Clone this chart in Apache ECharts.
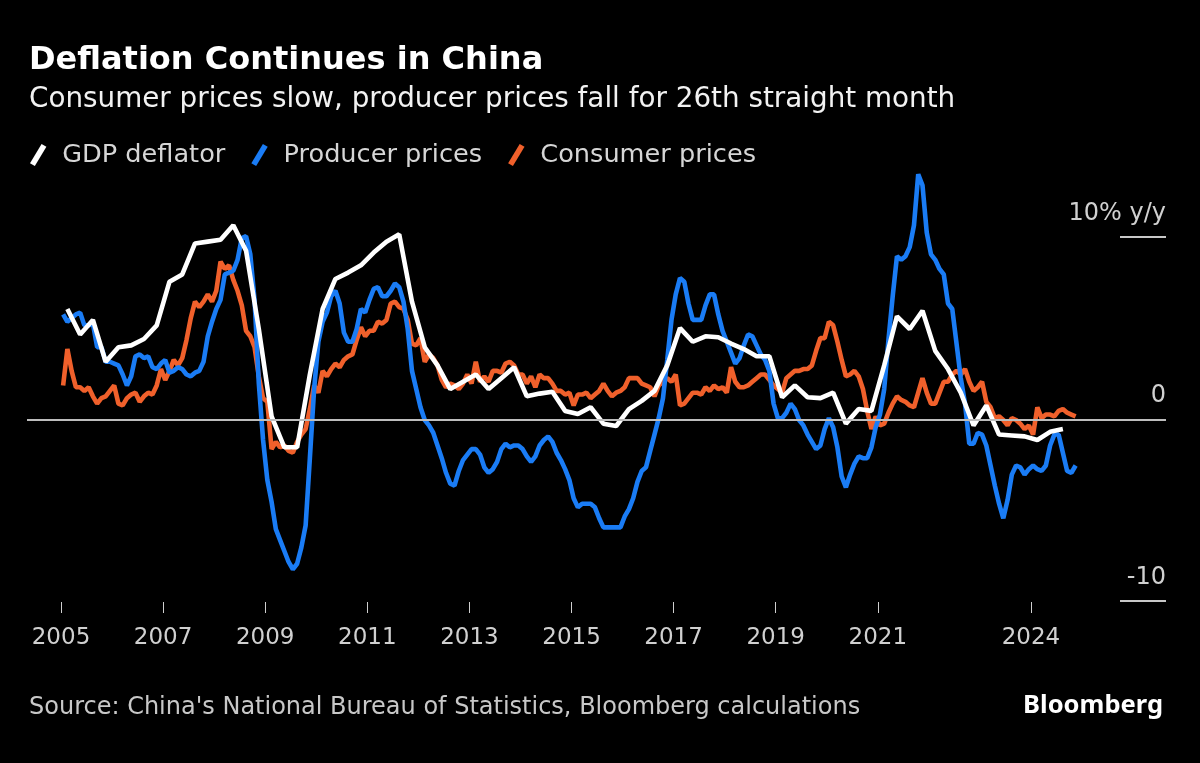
<!DOCTYPE html>
<html>
<head>
<meta charset="utf-8">
<script src="https://cdn.jsdelivr.net/npm/echarts@6/dist/echarts.min.js"></script>
<style>
html,body{margin:0;padding:0;background:#000;}
#chart{width:1200px;height:763px;}
</style>
</head>
<body>
<div id="chart"></div>
<script>
// Consumer prices y/y %, monthly Jan 2005 - Nov 2024
const cpi = [
  1.9,3.9,2.7,1.8,1.8,1.6,1.8,1.3,0.9,1.2,1.3,1.6,
  1.9,0.9,0.8,1.2,1.4,1.5,1.0,1.3,1.5,1.4,1.9,2.8,
  2.2,2.7,3.3,3.0,3.4,4.4,5.6,6.5,6.2,6.5,6.9,6.5,
  7.1,8.7,8.3,8.5,7.7,7.1,6.3,4.9,4.6,4.0,2.4,1.2,
  1.0,-1.6,-1.2,-1.5,-1.4,-1.7,-1.8,-1.2,-0.8,-0.5,0.6,1.9,
  1.5,2.7,2.4,2.8,3.1,2.9,3.3,3.5,3.6,4.4,5.1,4.6,
  4.9,4.9,5.4,5.3,5.5,6.4,6.5,6.2,6.1,5.5,4.2,4.1,
  4.5,3.2,3.6,3.4,3.0,2.2,1.8,2.0,1.9,1.7,2.0,2.5,
  2.0,3.2,2.1,2.4,2.1,2.7,2.7,2.6,3.1,3.2,3.0,2.5,
  2.5,2.0,2.4,1.8,2.5,2.3,2.3,2.0,1.6,1.6,1.4,1.5,
  0.8,1.4,1.4,1.5,1.2,1.4,1.6,2.0,1.6,1.3,1.5,1.6,
  1.8,2.3,2.3,2.3,2.0,1.9,1.8,1.3,1.9,2.1,2.3,2.1,
  2.5,0.8,0.9,1.2,1.5,1.5,1.4,1.8,1.6,1.9,1.7,1.8,
  1.5,2.9,2.1,1.8,1.8,1.9,2.1,2.3,2.5,2.5,2.2,1.9,
  1.7,1.5,2.3,2.5,2.7,2.7,2.8,2.8,3.0,3.8,4.5,4.5,
  5.4,5.2,4.3,3.3,2.4,2.5,2.7,2.4,1.7,0.5,-0.5,0.2,
  -0.3,-0.2,0.4,0.9,1.3,1.1,1.0,0.8,0.7,1.5,2.3,1.5,
  0.9,0.9,1.5,2.1,2.1,2.5,2.7,2.5,2.8,2.1,1.6,1.8,
  2.1,1.0,0.7,0.1,0.2,0.0,-0.3,0.1,0.0,-0.2,-0.5,-0.3,
  -0.8,0.7,0.1,0.3,0.3,0.2,0.5,0.6,0.4,0.3,0.2
];
// Producer prices y/y %, monthly Jan 2005 - Nov 2024
const ppi = [
  5.8,5.4,5.6,5.8,5.9,5.2,5.2,5.3,4.0,4.0,3.2,3.2,
  3.1,3.0,2.5,1.9,2.4,3.5,3.6,3.4,3.5,2.9,2.8,3.1,
  3.3,2.6,2.7,2.9,2.8,2.5,2.4,2.6,2.7,3.2,4.6,5.4,
  6.1,6.6,8.0,8.1,8.2,8.8,10.0,10.1,9.1,6.6,2.0,-1.1,
  -3.3,-4.5,-6.0,-6.6,-7.2,-7.8,-8.2,-7.9,-7.0,-5.8,-2.1,1.7,
  4.3,5.4,5.9,6.8,7.1,6.4,4.8,4.3,4.3,5.0,6.1,5.9,
  6.6,7.2,7.3,6.8,6.8,7.1,7.5,7.3,6.5,5.0,2.7,1.7,
  0.7,0.0,-0.3,-0.7,-1.4,-2.1,-2.9,-3.5,-3.6,-2.8,-2.2,-1.9,
  -1.6,-1.6,-1.9,-2.6,-2.9,-2.7,-2.3,-1.6,-1.3,-1.5,-1.4,-1.4,
  -1.6,-2.0,-2.3,-2.0,-1.4,-1.1,-0.9,-1.2,-1.8,-2.2,-2.7,-3.3,
  -4.3,-4.8,-4.6,-4.6,-4.6,-4.8,-5.4,-5.9,-5.9,-5.9,-5.9,-5.9,
  -5.3,-4.9,-4.3,-3.4,-2.8,-2.6,-1.7,-0.8,0.1,1.2,3.3,5.5,
  6.9,7.8,7.6,6.4,5.5,5.5,5.5,6.3,6.9,6.9,5.8,4.9,
  4.3,3.7,3.1,3.4,4.1,4.7,4.6,4.1,3.6,3.3,2.7,0.9,
  0.1,0.1,0.4,0.9,0.6,0.0,-0.3,-0.8,-1.2,-1.6,-1.4,-0.5,
  0.1,-0.4,-1.5,-3.1,-3.7,-3.0,-2.4,-2.0,-2.1,-2.1,-1.5,-0.4,
  0.3,1.7,4.4,6.8,9.0,8.8,9.0,9.5,10.7,13.5,12.9,10.3,
  9.1,8.8,8.3,8.0,6.4,6.1,4.2,2.3,0.9,-1.3,-1.3,-0.7,
  -0.8,-1.4,-2.5,-3.6,-4.6,-5.4,-4.4,-3.0,-2.5,-2.6,-3.0,-2.7,
  -2.5,-2.7,-2.8,-2.5,-1.4,-0.8,-0.8,-1.8,-2.8,-2.9,-2.5
];
// GDP deflator y/y %, quarterly 2005Q1 - 2024Q3
const gdpDeflator = [
  6.1,4.7,5.5,3.2,
  4.0,4.1,4.45,5.2,
  7.6,8.0,9.7,9.8,
  9.9,10.7,9.3,5.0,
  0.2,-1.5,-1.5,2.5,
  6.1,7.75,8.1,8.5,
  9.2,9.8,10.2,6.5,
  4.0,3.0,1.7,2.1,
  2.5,1.7,2.3,2.9,
  1.3,1.45,1.55,0.5,
  0.33,0.7,-0.2,-0.33,
  0.6,1.05,1.6,3.0,
  5.05,4.3,4.6,4.55,
  4.2,3.9,3.5,3.5,
  1.25,1.9,1.25,1.2,
  1.5,-0.2,0.6,0.5,
  3.0,5.7,5.0,6.0,
  3.8,2.8,1.5,-0.3,
  0.8,-0.8,-0.85,-0.9,
  -1.1,-0.65,-0.5
];
const startYear = 2005;
const xTickYears = [2005, 2007, 2009, 2011, 2013, 2015, 2017, 2019, 2021, 2024];
const yTicks = [-10, 0, 10];
const seriesNames = ['GDP deflator', 'Producer prices', 'Consumer prices'];

const monthly = arr => arr.map((v, i) => [startYear + (i + 0.5) / 12, v]);
const quarterly = arr => arr.map((v, i) => [startYear + (i + 0.5) / 4, v]);

const FONT = 'DejaVu Sans';
const chart = echarts.init(document.getElementById('chart'), null, {renderer: 'canvas'});
const slant = 'path://M0,20 L12,0 L17,2.8 L5,22.8 Z';

chart.setOption({
  backgroundColor: '#000',
  animation: false,
  textStyle: {fontFamily: FONT},
  title: [
    {text: 'Deflation Continues in China', left: 29, top: 45, padding: 0,
     textStyle: {color: '#fff', fontSize: 32, fontWeight: 'bold', fontFamily: FONT}},
    {text: 'Consumer prices slow, producer prices fall for 26th straight month', left: 29, top: 86, padding: 0,
     textStyle: {color: '#f2f2f2', fontSize: 27.8, fontWeight: 'normal', fontFamily: FONT}},
    {text: "Source: China's National Bureau of Statistics, Bloomberg calculations", left: 29, top: 696, padding: 0,
     textStyle: {color: '#c8c8c8', fontSize: 24, fontWeight: 'normal', fontFamily: FONT}},
    {text: 'Bloomberg', right: 37, top: 693, padding: 0,
     textStyle: {color: '#fff', fontSize: 25.5, fontWeight: 'bold', fontFamily: 'Noto Sans'}}
  ],
  legend: {
    left: 30, top: 142, padding: 0,
    data: seriesNames,
    icon: slant,
    itemWidth: 18, itemHeight: 22, itemGap: 26,
    textStyle: {color: '#d6d6d6', fontSize: 25.6, fontFamily: FONT, padding: [0, 0, 0, 10]}
  },
  grid: {left: 27, right: 34, top: 147, bottom: 161},
  xAxis: {
    type: 'value', min: 2004.334, max: 2026.645,
    axisLine: {show: false, onZero: false},
    splitLine: {show: false},
    axisTick: {show: true, customValues: xTickYears, length: 11, lineStyle: {color: '#cfcfcf', width: 1}},
    axisLabel: {customValues: xTickYears, formatter: v => String(v), color: '#d0d0d0', fontSize: 23, margin: 25, fontFamily: FONT}
  },
  yAxis: {
    type: 'value', position: 'right', min: -10, max: 15, interval: 10,
    axisLine: {show: false}, axisTick: {show: false}, splitLine: {show: false},
    axisLabel: {
      inside: true, margin: 0, verticalAlign: 'bottom', align: 'right',
      showMaxLabel: false,
      formatter: v => {
        if (!yTicks.includes(v)) return '';
        if (v === 10) return '{t|10% y/y}\n{bar|}';
        if (v === 0) return '{t|0}\n{sp|}';
        return '{t|' + v + '}\n{bar|}';
      },
      rich: {
        t: {color: '#d0d0d0', fontSize: 24, lineHeight: 44, align: 'right', fontFamily: FONT},
        bar: {width: 46, height: 2, lineHeight: 2, backgroundColor: '#c8c8c8', align: 'right'},
        sp: {width: 1, height: 2, lineHeight: 2, align: 'right'}
      }
    }
  },
  series: [
    {type: 'line', data: [], silent: true, z: 1,
     markLine: {silent: true, symbol: 'none', label: {show: false},
       lineStyle: {color: '#bdbdbd', width: 2, type: 'solid'},
       data: [{yAxis: 0}]}},
    {name: seriesNames[2], type: 'line', data: monthly(cpi), showSymbol: false, z: 2,
     color: '#f0602b', lineStyle: {width: 4.6, color: '#f0602b'}},
    {name: seriesNames[1], type: 'line', data: monthly(ppi), showSymbol: false, z: 3,
     color: '#1a7cf5', lineStyle: {width: 4.6, color: '#1a7cf5'}},
    {name: seriesNames[0], type: 'line', data: quarterly(gdpDeflator), showSymbol: false, z: 4,
     color: '#ffffff', lineStyle: {width: 4.6, color: '#ffffff'}}
  ]
});
</script>
</body>
</html>
